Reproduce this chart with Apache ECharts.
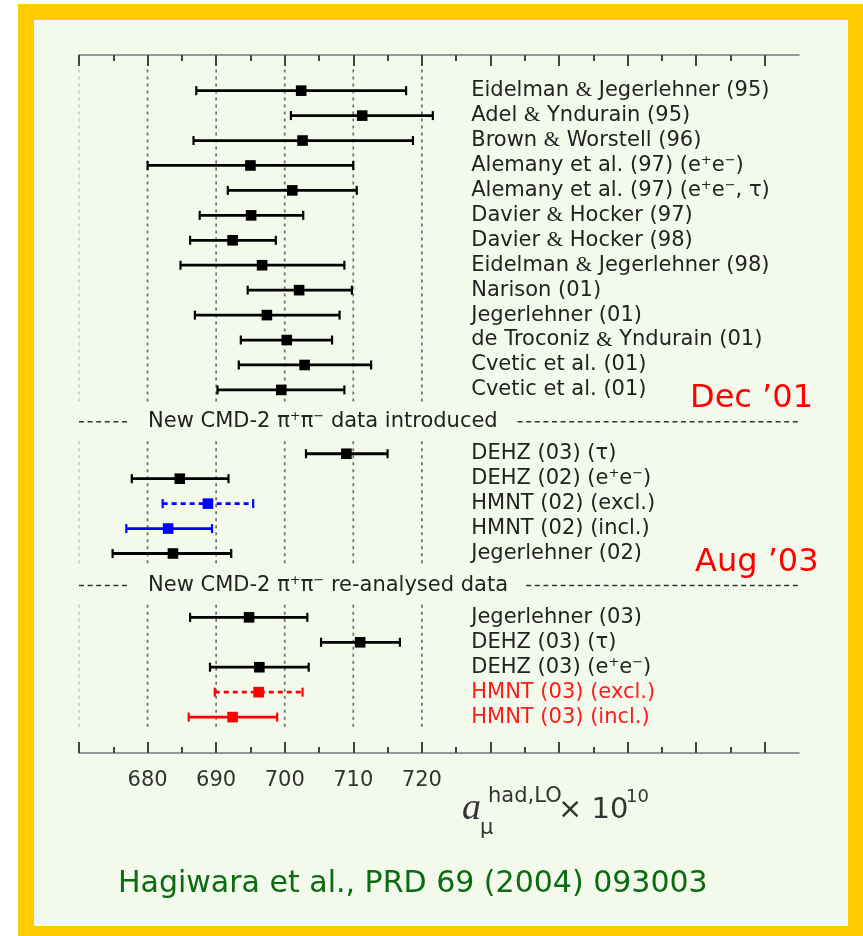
<!DOCTYPE html>
<html><head><meta charset="utf-8">
<script src="https://cdn.jsdelivr.net/npm/echarts@6/dist/echarts.min.js"></script>
<style>
html,body{margin:0;padding:0;background:#fff;width:863px;height:936px;overflow:hidden;}
#frame{position:absolute;left:18px;top:4px;width:845px;height:932px;background:#ffcc00;}
#inner{position:absolute;left:34px;top:20px;width:814px;height:906px;background:#f3faec;}
#chart{position:absolute;left:0;top:0;width:863px;height:936px;}
</style></head><body>
<div id="frame"></div><div id="inner"></div><div id="chart"></div>
<script>
// ---------- data ----------
const labels1 = ['Eidelman & Jegerlehner (95)', 'Adel & Yndurain (95)', 'Brown & Worstell (96)',
  'Alemany et al. (97) (e{s|+}e{s|−})', 'Alemany et al. (97) (e{s|+}e{s|−}, τ)', 'Davier & Hocker (97)',
  'Davier & Hocker (98)', 'Eidelman & Jegerlehner (98)', 'Narison (01)', 'Jegerlehner (01)',
  'de Troconiz & Yndurain (01)', 'Cvetic et al. (01)', 'Cvetic et al. (01)'];
const centers1 = [702.4, 711.3, 702.6, 695.0, 701.1, 695.1, 692.4, 696.7, 702.1, 697.4, 700.3, 702.9, 699.5];
const lows1    = [687.1, 700.9, 686.7, 680.0, 691.7, 687.6, 686.2, 684.8, 694.6, 686.9, 693.6, 693.3, 690.2];
const highs1   = [717.7, 721.6, 718.7, 710.0, 710.5, 702.7, 698.7, 708.7, 709.8, 708.0, 706.9, 712.6, 708.7];

const labels2 = ['DEHZ (03) (τ)', 'DEHZ (02) (e{s|+}e{s|−})', 'HMNT (02) (excl.)', 'HMNT (02) (incl.)', 'Jegerlehner (02)'];
const centers2 = [709.0, 684.7, 688.8, 683.0, 683.7];
const lows2    = [703.1, 677.7, 682.2, 676.9, 674.9];
const highs2   = [715.0, 691.8, 695.4, 689.4, 692.2];

const labels3 = ['Jegerlehner (03)', 'DEHZ (03) (τ)', 'DEHZ (03) (e{s|+}e{s|−})', 'HMNT (03) (excl.)', 'HMNT (03) (incl.)'];
const centers3 = [694.8, 711.0, 696.3, 696.2, 692.4];
const lows3    = [686.2, 705.3, 689.1, 689.8, 686.0];
const highs3   = [703.3, 716.8, 703.5, 702.6, 698.9];

const separatorTexts = ['New CMD-2 π{s|+}π{s|−} data introduced', 'New CMD-2 π{s|+}π{s|−} re-analysed data'];
const majorTicks = [670, 680, 690, 700, 710, 720, 730, 740, 750, 760, 770];
const minorTicks = [675, 685, 695, 705, 715, 725, 735, 745, 755, 765];
const tickLabels = [680, 690, 700, 710, 720];
const gridValues = [670, 680, 690, 700, 710, 720];

// ---------- styling (not data) ----------
const X_MIN = 670, X_MAX = 775, LABEL_X = 727.2, GAP = 1.56;
const FONT = '"DejaVu Sans", sans-serif';
const BG = '#f3faec';
const specialStyle = {
  'HMNT (02) (excl.)': {bar: '#0000ff', dashed: true, text: '#222'},
  'HMNT (02) (incl.)': {bar: '#0000ff', dashed: false, text: '#222'},
  'HMNT (03) (excl.)': {bar: '#ff0000', dashed: true, text: '#ff1a1a'},
  'HMNT (03) (incl.)': {bar: '#ff0000', dashed: false, text: '#ff1a1a'}
};

// ---------- build rows ----------
const groups = [
  {labels: labels1, c: centers1, lo: lows1, hi: highs1},
  {labels: labels2, c: centers2, lo: lows2, hi: highs2},
  {labels: labels3, c: centers3, lo: lows3, hi: highs3}
];
const allLabels = [];
const rowData = [];
const groupExtents = [];
let k = 0;
groups.forEach((g, gi) => {
  const first = k + gi * GAP;
  g.labels.forEach((lab, i) => {
    const y = k + gi * GAP;
    allLabels.push(lab);
    rowData.push([g.lo[i], g.c[i], g.hi[i], y, allLabels.length - 1]);
    k++;
  });
  const last = (k - 1) + gi * GAP;
  groupExtents.push([first, last]);
});
const sepData = [];
for (let s = 0; s < separatorTexts.length; s++) {
  sepData.push([(groupExtents[s][1] + groupExtents[s + 1][0]) / 2, s]);
}
const gridData = [];
groupExtents.forEach((e, gi) => {
  gridValues.forEach(v => gridData.push([v, e[0] - (gi === 0 ? 0.85 : 0.5), e[1] + 0.5]));
});

function richFor(color) {
  return {
    s: {fontSize: 13, fontFamily: FONT, fill: color, padding: [0, 0, 10, 0]},
    amp: {fontSize: 21, fontFamily: '"Liberation Serif", serif', fill: color}
  };
}

function renderBar(params, api) {
  const lo = api.value(0), c = api.value(1), hi = api.value(2), y = api.value(3), idx = api.value(4);
  const lab = allLabels[idx];
  const st = specialStyle[lab] || {bar: '#000', dashed: false, text: '#222'};
  const pL = api.coord([lo, y]), pC = api.coord([c, y]), pR = api.coord([hi, y]);
  const pT = api.coord([LABEL_X, y]);
  const capH = 4.5;
  return {
    type: 'group',
    children: [
      {type: 'line', shape: {x1: pL[0], y1: pL[1], x2: pR[0], y2: pR[1]},
        style: {stroke: st.bar, lineWidth: 2.8, lineDash: st.dashed ? [5, 4] : null}},
      {type: 'line', shape: {x1: pL[0], y1: pL[1] - capH, x2: pL[0], y2: pL[1] + capH},
        style: {stroke: st.bar, lineWidth: 2.2}},
      {type: 'line', shape: {x1: pR[0], y1: pR[1] - capH, x2: pR[0], y2: pR[1] + capH},
        style: {stroke: st.bar, lineWidth: 2.2}},
      {type: 'rect', shape: {x: pC[0] - 5.3, y: pC[1] - 5.3, width: 10.6, height: 10.6},
        style: {fill: st.bar}},
      {type: 'text', x: pT[0], y: pT[1],
        style: {text: lab.replace(/&/g, '{amp|&}'), fill: st.text, fontSize: 21, fontFamily: FONT,
          align: 'left', verticalAlign: 'middle', rich: richFor(st.text)}}
    ]
  };
}

function renderSep(params, api) {
  const y = api.value(0), idx = api.value(1);
  const a = api.coord([X_MIN, y]), b = api.coord([X_MAX, y]);
  const t = api.coord([677.45, y]);
  return {
    type: 'group',
    children: [
      {type: 'line', shape: {x1: a[0], y1: a[1], x2: b[0], y2: b[1]},
        style: {stroke: '#333', lineWidth: 1.5, lineDash: [5, 3.6]}},
      {type: 'text', x: t[0], y: t[1],
        style: {text: separatorTexts[idx], fill: '#222', fontSize: 21, fontFamily: FONT,
          align: 'left', verticalAlign: 'middle', backgroundColor: BG, padding: [3, 17, 3, 18],
          rich: richFor('#222')}}
    ]
  };
}

function renderGrid(params, api) {
  const v = api.value(0);
  const a = api.coord([v, api.value(1)]), b = api.coord([v, api.value(2)]);
  return {type: 'line', shape: {x1: a[0], y1: a[1], x2: b[0], y2: b[1]},
    style: {stroke: v === X_MIN ? '#c8cbc4' : '#6f6f6f', lineWidth: 1.7, lineDash: [3, 4]}};
}

const axisBase = {type: 'value', min: X_MIN, max: X_MAX, gridIndex: 0,
  splitLine: {show: false}, minorTick: {show: false}};
const chart = echarts.init(document.getElementById('chart'), null, {renderer: 'canvas'});
chart.setOption({
  backgroundColor: 'transparent',
  animation: false,
  grid: {left: 79, right: 64, top: 55, bottom: 183, containLabel: false},
  xAxis: [
    Object.assign({}, axisBase, {position: 'bottom',
      axisLine: {show: true, onZero: false, lineStyle: {color: '#777', width: 1.5}},
      axisTick: {show: true, inside: true, length: 11, customValues: majorTicks, lineStyle: {color: '#444', width: 2}},
      axisLabel: {show: true, customValues: tickLabels, margin: 17, fontSize: 21, fontFamily: FONT, color: '#333'}}),
    Object.assign({}, axisBase, {position: 'bottom',
      axisLine: {show: false, onZero: false},
      axisTick: {show: true, inside: true, length: 6, customValues: minorTicks, lineStyle: {color: '#444', width: 2}},
      axisLabel: {show: false}}),
    Object.assign({}, axisBase, {position: 'top',
      axisLine: {show: true, onZero: false, lineStyle: {color: '#777', width: 1.5}},
      axisTick: {show: true, inside: true, length: 11, customValues: majorTicks, lineStyle: {color: '#444', width: 2}},
      axisLabel: {show: false}}),
    Object.assign({}, axisBase, {position: 'top',
      axisLine: {show: false, onZero: false},
      axisTick: {show: true, inside: true, length: 6, customValues: minorTicks, lineStyle: {color: '#444', width: 2}},
      axisLabel: {show: false}})
  ],
  yAxis: {type: 'value', min: -1.43, max: 26.56, inverse: true, show: false},
  series: [
    {type: 'custom', renderItem: renderGrid, data: gridData, xAxisIndex: 0, yAxisIndex: 0, silent: true, z: 1},
    {type: 'custom', renderItem: renderSep, data: sepData, xAxisIndex: 0, yAxisIndex: 0, silent: true, z: 2},
    {type: 'custom', renderItem: renderBar, data: rowData, xAxisIndex: 0, yAxisIndex: 0, silent: true, z: 3}
  ],
  graphic: [
    {type: 'text', x: 462, y: 809, style: {text: 'a', font: 'italic 38px "Liberation Serif", serif', fill: '#333', verticalAlign: 'middle', align: 'left'}},
    {type: 'text', x: 480, y: 829, style: {text: 'μ', font: '21px "DejaVu Sans", sans-serif', fill: '#333', verticalAlign: 'middle', align: 'left'}},
    {type: 'text', x: 488, y: 797, style: {text: 'had,LO', font: '21px "DejaVu Sans", sans-serif', fill: '#333', verticalAlign: 'middle', align: 'left'}},
    {type: 'text', x: 558, y: 810, style: {text: '× 10', font: '29px "DejaVu Sans", sans-serif', fill: '#333', verticalAlign: 'middle', align: 'left'}},
    {type: 'text', x: 626, y: 797, style: {text: '10', font: '18px "DejaVu Sans", sans-serif', fill: '#333', verticalAlign: 'middle', align: 'left'}},
    {type: 'text', x: 690, y: 399, style: {text: 'Dec \u201901', font: '32px "DejaVu Sans", sans-serif', fill: '#ff0000', verticalAlign: 'middle', align: 'left'}},
    {type: 'text', x: 695, y: 563, style: {text: 'Aug \u201903', font: '32px "DejaVu Sans", sans-serif', fill: '#ff0000', verticalAlign: 'middle', align: 'left'}},
    {type: 'text', x: 118, y: 884, style: {text: 'Hagiwara et al., PRD 69 (2004) 093003', font: '30px "DejaVu Sans", sans-serif', fill: '#0b6b10', verticalAlign: 'middle', align: 'left'}}
  ]
});
</script>
</body></html>
